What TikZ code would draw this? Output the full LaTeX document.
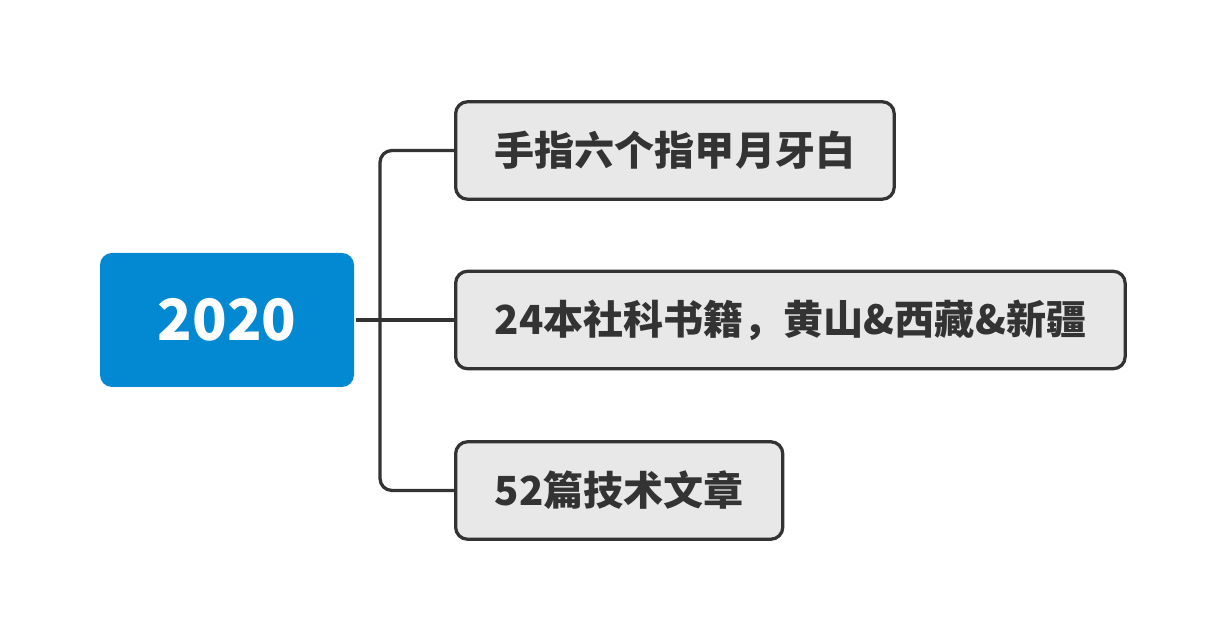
\documentclass[tikz,border=0pt]{standalone}
\usepackage{xcolor}
\usepackage{fontspec}
\setmainfont{Noto Sans CJK SC}
\usepackage{tikz}
\usetikzlibrary{positioning}

\definecolor{rootblue}{HTML}{0388D2}
\definecolor{boxgray}{HTML}{E8E8E8}
\definecolor{inkgray}{HTML}{333333}

\begin{document}
\begin{tikzpicture}[line width=0.065cm,inkgray,
		root node/.style={rectangle,rounded corners=0.24cm,fill=rootblue,text=white,
			minimum width=5.08cm,minimum height=2.68cm,font=\bfseries\fontsize{32.4pt}{38pt}\selectfont},
		topic node/.style={rectangle,rounded corners=0.24cm,draw=inkgray,fill=boxgray,text=inkgray,
			anchor=west,inner xsep=0.78cm,minimum height=1.95cm,font=\bfseries\fontsize{22.8pt}{27pt}\selectfont}]
	
	\useasboundingbox (0,0) rectangle (24.44,-12.8);
	
	\node[root node] (root) at (4.54,-6.4) {2020};
	\node[topic node] (t1) at (9.08,-3.01) {手指六个指甲月牙白};
	\node[topic node] (t2) at (9.08,-6.4) {24本社科书籍，黄山\&西藏\&新疆};
	\node[topic node] (t3) at (9.08,-9.81) {52篇技术文章};
	\coordinate (fork) at (7.6,-6.4);
	
	\draw (root.east) -- (t2.west);
	\draw[rounded corners=0.24cm] (t1.west) -| (fork) |- (t3.west);
\end{tikzpicture}
\end{document}
